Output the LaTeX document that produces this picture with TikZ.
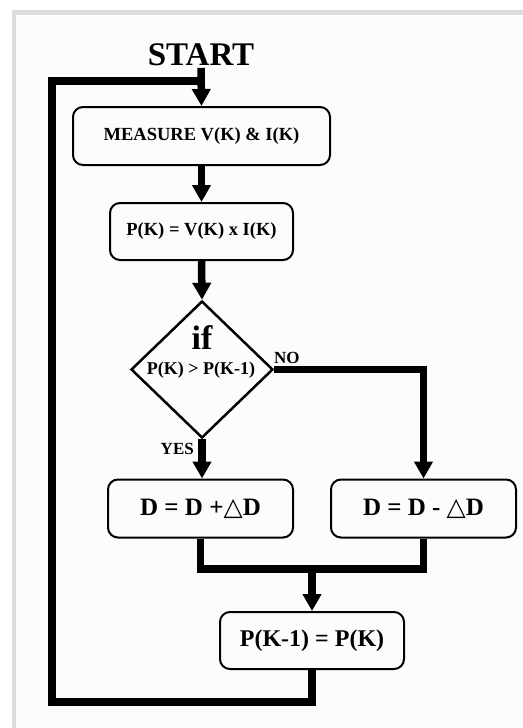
\documentclass[tikz,border=0pt]{standalone}
\usepackage{fontspec}
\setmainfont{Liberation Serif}
\newfontfamily\symfont{DejaVu Sans}
\usetikzlibrary{arrows.meta,shapes.geometric}
\definecolor{framegray}{HTML}{DCDCDC}
\definecolor{paper}{HTML}{FCFCFC}
\begin{document}
\begin{tikzpicture}[x=1pt,y=-1pt,
  box/.style={draw,line width=2pt,rounded corners=10pt,inner sep=0pt,fill=paper},
  flow/.style={line width=7.5pt,-{Triangle[width=18pt,length=17pt]}},
  wire/.style={line width=7.5pt},
  lbl/.style={inner sep=0pt,font=\fontsize{17}{20}\selectfont\bfseries},
]
\useasboundingbox (0,0) rectangle (522,728);
\fill[white] (0,0) rectangle (522,728);
\fill[paper] (14,12) rectangle (522,728);
\draw[framegray,line width=4.5pt] (14,740) -- (14,12.5) -- (530,12.5);

\node[inner sep=2pt,font=\fontsize{33}{36}\selectfont\bfseries] (start) at (201,54.5) {START};
\node[box,minimum width=257pt,minimum height=58pt,font=\fontsize{18.5}{21}\selectfont\bfseries] (m1) at (201.5,136) {MEASURE V(K) \& I(K)};
\node[box,minimum width=183pt,minimum height=57pt,font=\fontsize{18.5}{21}\selectfont\bfseries] (m2) at (201.5,231.5) {P(K) = V(K) x I(K)};
\node[draw,diamond,line width=2.5pt,minimum width=142pt,minimum height=137pt,inner sep=0pt,fill=paper] (dec) at (202,369.5) {};
\node[inner sep=0pt,font=\fontsize{34}{36}\selectfont\bfseries] (if) at (202,338) {if};
\node[inner sep=0pt,font=\fontsize{18}{20}\selectfont\bfseries] (cond) at (201,370) {P(K) > P(K-1)};
\node[lbl,anchor=south west] (no) at (274,364) {NO};
\node[lbl,anchor=south east] (yes) at (194,455) {YES};
\node[box,minimum width=185pt,minimum height=58pt,font=\fontsize{25}{28}\selectfont\bfseries] (b3) at (200.5,508.5) {D = D +{\symfont △}D};
\node[box,minimum width=185pt,minimum height=58pt,font=\fontsize{25}{28}\selectfont\bfseries] (b4) at (423.5,508.5) {D = D - {\symfont △}D};
\node[box,minimum width=184pt,minimum height=57pt,font=\fontsize{24}{27}\selectfont\bfseries] (b5) at (312,640.5) {P(K-1) = P(K)};

\coordinate (mg) at (312,569);
\coordinate (bl) at (52,702);
\coordinate (tl) at (52,81);
\coordinate (tj) at (201,81);

\draw[flow] (start.south) -- (m1.north);
\draw[flow] (m1.south) -- (m2.north);
\draw[flow] (m2.south) -- (dec.north);
\draw[flow] (dec.east) -| (b4.north);
\draw[flow] (dec.south) -- (dec.south |- b3.north);
\draw[wire] (b3.south) |- (mg) -| (b4.south);
\draw[flow] (mg) -- (b5.north);
\draw[wire] (b5.south) |- (bl) -- (tl) -- (tj);
\end{tikzpicture}
\end{document}
